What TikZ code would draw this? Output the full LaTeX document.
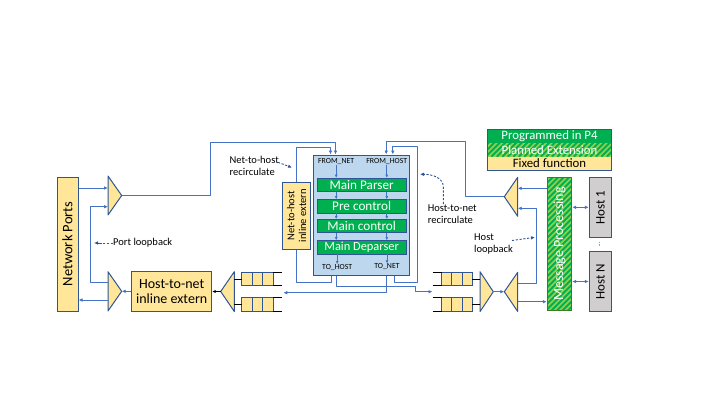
\documentclass[tikz,border=0pt]{standalone}
\usepackage{fontspec}
\setmainfont{Carlito}
\usetikzlibrary{arrows.meta,calc}

\definecolor{wire}{HTML}{4472C4}
\definecolor{edge}{HTML}{2F5597}
\definecolor{fixedfill}{HTML}{FFE699}
\definecolor{pipefill}{HTML}{BDD7EE}
\definecolor{ptgreen}{HTML}{00B050}
\definecolor{lightgreen}{HTML}{92D050}
\definecolor{hostfill}{HTML}{D0CECE}
\definecolor{mpedge}{HTML}{3B7D23}

% striped "planned extension" fill inside a rectangle (x1,y1)-(x2,y2)
\newcommand\hatchrect[4]{%
  \begin{scope}
    \clip (#1,#2) rectangle (#3,#4);
    \fill[lightgreen] (#1,#2) rectangle (#3,#4);
    \foreach \k in {0,5.5,...,310}
      \draw[ptgreen, line width=2pt] ({#1-150+\k},#4) -- ++(150,-150);
  \end{scope}}

\tikzset{
  wire/.style={draw=wire, line width=1pt, line join=round},
  arr/.style={wire, -{Latex[length=4pt,width=3.6pt]}},
  darr/.style={wire, {Latex[length=4pt,width=3.6pt]}-{Latex[length=4pt,width=3.6pt]}},
  inarr/.style={draw=wire, line width=0.8pt, -{Latex[length=3.2pt,width=3pt]}},
  blackarr/.style={draw=black, line width=1pt, -{Latex[length=3.5pt,width=3.2pt]}},
  note/.style={draw=edge, line width=0.9pt, dash pattern=on 2.2pt off 1.6pt, -{Latex[length=4pt,width=3.6pt]}},
  fixedbox/.style={draw=edge, fill=fixedfill, line width=1pt, inner sep=0pt, align=center},
  stage/.style={draw=edge, fill=ptgreen, text=white, line width=0.8pt,
    minimum width=88.7pt, minimum height=13.4pt, inner sep=0pt,
    font=\fontsize{13.2}{13.4}\selectfont},
  tri/.style={draw=edge, fill=fixedfill, line width=1pt, line join=round},
  cell/.style={draw=edge, fill=fixedfill, line width=0.9pt},
  opn/.style={draw=black, line width=1pt},
  lbl/.style={font=\fontsize{10.5}{11.8}\selectfont, align=left, inner sep=0pt, anchor=west},
  portname/.style={font=\fontsize{7.8}{8}\selectfont, inner sep=0pt},
  legendrow/.style={minimum width=124.4pt, inner sep=0pt, font=\fontsize{12.8}{13}\selectfont},
}

\begin{document}
\begin{tikzpicture}[x=1pt, y=-1pt]
\useasboundingbox (0,0) rectangle (720,405);

% ---------- boxes ----------
\node[fixedbox, minimum width=21pt, minimum height=134pt] (np) at (67.5,244) {};
\node[rotate=90, font=\fontsize{14.5}{15}\selectfont] (npText) at (np) {Network Ports};

\node[fixedbox, minimum width=80pt, minimum height=39.3pt,
      font=\fontsize{14}{15.5}\selectfont] (h2n) at (171.7,291.35) {Host-to-net\\inline extern};

\node[fixedbox, minimum width=28pt, minimum height=66.7pt] (n2h) at (296.7,215.65) {};
\node[rotate=90, align=center, font=\fontsize{10.5}{11.7}\selectfont] (n2hText) at (n2h) {Net-to-host\\inline extern};

% pipeline
\node[draw=edge, fill=pipefill, line width=1pt, minimum width=96pt, minimum height=120.7pt,
      inner sep=0pt] (pipe) at (361.3,215.35) {};
\node[portname] (fromnet)  at (336.2,161.7) {FROM\_NET};
\node[portname] (fromhost) at (386.8,161.7) {FROM\_HOST};
\node[stage] (parser) at (361.65,185)    {Main Parser};
\node[stage] (pre)    at (361.65,206.35) {Pre control};
\node[stage] (ctrl)   at (361.65,226.15) {Main control};
\node[stage, font=\fontsize{12.4}{13}\selectfont] (deparser) at (361.65,247.35) {Main Deparser};
\node[portname] (tohost) at (337.2,267.5) {TO\_HOST};
\node[portname] (tonet)  at (387,266.8)   {TO\_NET};

\foreach \c in {fromnet,fromhost} {
  \draw[inarr] (\c.south) -- (parser.north -| \c);
  \draw[inarr] (parser.south -| \c) -- (pre.north -| \c);
  \draw[inarr] (pre.south -| \c) -- (ctrl.north -| \c);
  \draw[inarr] (ctrl.south -| \c) -- (deparser.north -| \c);
}
\draw[inarr] (deparser.south -| tohost) -- (tohost.north);
\draw[inarr] (deparser.south -| tonet) -- (tonet.north);

% legend
\node[legendrow, fill=ptgreen, text=white, minimum height=14pt] (lgP4) at (549.5,136.3) {Programmed in P4};
\hatchrect{487.3}{143.3}{611.7}{156.7}
\node[legendrow, text=white, minimum height=13.4pt] (lgPlan) at (549.5,150) {Planned Extension};
\node[legendrow, fill=fixedfill, minimum height=13.3pt] (lgFix) at (549.5,163.35) {Fixed function};
\draw[edge, line width=1pt] (lgP4.north west) rectangle (lgFix.south east);

% message processing
\hatchrect{547.3}{177.3}{571.7}{310.7}
\node[draw=mpedge, line width=1pt, minimum width=24.4pt, minimum height=133.4pt, inner sep=0pt] (mp) at (559.5,244) {};
\node[rotate=90, text=white, font=\fontsize{14}{14}\selectfont] (mpText) at (mp) {Message Processing};

% hosts
\node[draw=edge, fill=hostfill, line width=1pt, minimum width=22.4pt, minimum height=60pt, inner sep=0pt] (h1) at (600.5,207.3) {};
\node[rotate=90, font=\fontsize{13}{13}\selectfont] (h1Text) at (h1) {Host 1};
\node[draw=edge, fill=hostfill, line width=1pt, minimum width=22.4pt, minimum height=59.3pt, inner sep=0pt] (hN) at (600.5,281.5) {};
\node[rotate=90, font=\fontsize{13}{13}\selectfont] (hNText) at (hN) {Host N};
\node[rotate=90, font=\fontsize{6}{6}\selectfont, inner sep=0pt] (hdots) at (599.5,244.5) {...};

% ---------- multiplexers ----------
\coordinate (t1a) at (121.7,195.5);
\draw[tri] (108,176) -- (t1a) -- (108,215) -- cycle;
\coordinate (t1i1) at (108,188);
\coordinate (t1i2) at (108,206.7);

\coordinate (t2a) at (121.7,291.3);
\draw[tri] (108,271.7) -- (t2a) -- (108,311) -- cycle;
\coordinate (t2o1) at (108,282);
\coordinate (t2o2) at (108,300);

\coordinate (t3a) at (220.7,291.5);
\draw[tri] (234.3,271.7) -- (t3a) -- (234.3,311.5) -- cycle;

\coordinate (t4a) at (493.3,291.7);
\draw[tri] (480,271.7) -- (t4a) -- (480,311.7) -- cycle;

\coordinate (t5a) at (504.3,291.7);
\draw[tri] (517.7,272.3) -- (t5a) -- (517.7,311.5) -- cycle;
\coordinate (t5o1) at (517.7,283);
\coordinate (t5o2) at (517.7,301.7);

\coordinate (t6a) at (504.3,196.7);
\draw[tri] (517.7,177.3) -- (t6a) -- (517.7,216.3) -- cycle;
\coordinate (t6i1) at (517.7,188.3);
\coordinate (t6i2) at (517.7,208.3);

% ---------- queues ----------
% host-to-net queues (open end on the right)
\foreach \qy in {272.3,297.7} {
  \foreach \i in {0,1,2}
    \draw[cell] ({241.7+10.53*\i},\qy) rectangle ++(10.53,13.4);
  \draw[opn] (273.3,\qy) -- (281.7,\qy);
  \draw[opn] (273.3,\qy+13.4) -- (281.7,\qy+13.4);
  \draw[opn] (234.3,\qy+6.7) -- (241.7,\qy+6.7);
}
% net-to-host queues (open end on the left)
\foreach \qy in {272.3,297.7} {
  \foreach \i in {0,1,2}
    \draw[cell] ({441.7+10.2*\i},\qy) rectangle ++(10.2,13.4);
  \draw[opn] (432.7,\qy) -- (441.7,\qy);
  \draw[opn] (432.7,\qy+13.4) -- (441.7,\qy+13.4);
  \draw[opn] (472.3,\qy+6.7) -- (480,\qy+6.7);
}
\coordinate (lqin) at (283.3,292.7);
\coordinate (rqin) at (432.5,291.7);

% ---------- pipeline ports ----------
\coordinate (pinA) at ($(pipe.north west)+(17.7,0)$);
\coordinate (pinB) at ($(pipe.north west)+(22.7,0)$);
\coordinate (pinC) at ($(pipe.north west)+(73.4,0)$);
\coordinate (pinD) at ($(pipe.north west)+(80,0)$);
\coordinate (poA) at ($(pipe.south west)+(18.4,0)$);
\coordinate (poB) at ($(pipe.south west)+(24,0)$);
\coordinate (poC) at ($(pipe.south west)+(73.4,0)$);
\coordinate (poD) at ($(pipe.south west)+(81.7,0)$);

% ---------- connectors ----------
\draw[arr] (np.east |- t1i1) -- (t1i1);
\draw[arr] (t1a) -| (210,142.3) -| (pinB);
\draw[arr] (n2h.north) |- ($(pinA)+(0,-7)$) -- (pinA);
\draw[wire] (poA) -- ++(0,6) -| (n2h.south);
\draw[arr] (poB) -- ++(0,10) -| (415,291.7) -- (rqin);
\draw[arr] (poC) |- (lqin);
\draw[arr] (poD) -- ++(0,6.6) -| (417,146) -| (pinD);
\draw[arr] (t6a) -| (465,141) -| (pinC);

\draw[arr] (mp.west |- t6i1) -- (t6i1);
\draw[arr] (t5o1) -| (536,208.3) -- (t6i2);
\draw[arr] (t5o2) -- (mp.west |- t5o2);
\draw[arr] (t4a) -- (t5a);

\draw[blackarr] (t3a) -- (h2n.east |- t3a);
\draw[arr] (h2n.west |- t2a) -- (t2a);
\draw[arr] (t2o1) -| (90,206.7) -- (t1i2);
\draw[arr] (t2o2) -- (np.east |- t2o2);

\draw[darr] (mp.east |- h1) -- (h1.west);
\draw[darr] (mp.east |- hN) -- (hN.west);

% ---------- annotations ----------
\node[lbl] (plb) at (113,243) {Port loopback};
\draw[note] (plb.west) -- ++(-19,0);

\node[lbl] (n2hr) at (229.5,165.5) {Net-to-host\\recirculate};
\coordinate (n2hrS) at (278,162.3);
\coordinate (n2hrE) at (292,167.6);
\draw[note] (n2hrS) -- (n2hrE);

\node[lbl] (h2nr) at (427.7,214.5) {Host-to-net\\recirculate};
\coordinate (h2nrS) at (443.3,204);
\coordinate (h2nrE) at (420,174.3);
\draw[note] (h2nrS) -- (443.3,187) .. controls (443.3,178) and (433,174.3) .. (h2nrE);

\node[lbl] (hlb) at (474,244) {Host\\loopback};
\coordinate (hlbS) at (512,240.5);
\coordinate (hlbE) at (535,237.3);
\draw[note] (hlbS) -- (hlbE);
\end{tikzpicture}
\end{document}
